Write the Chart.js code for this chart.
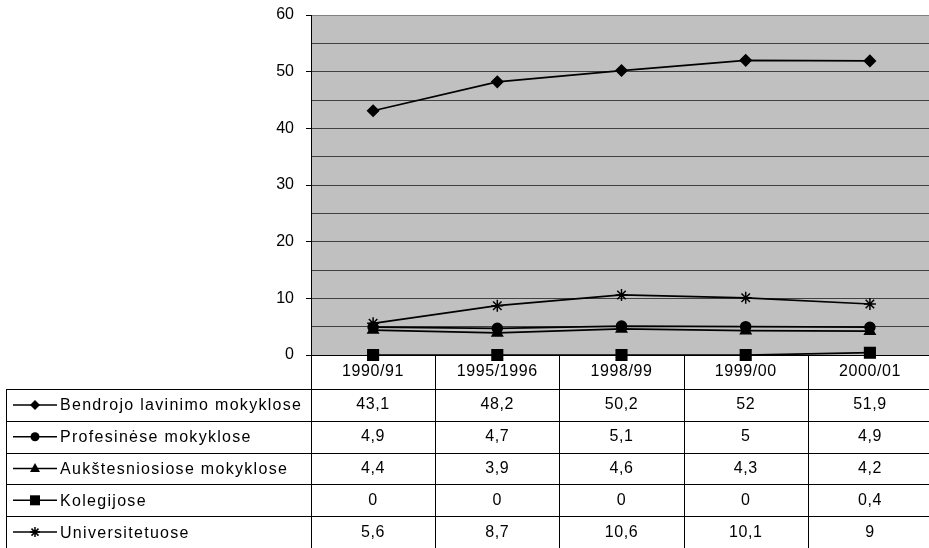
<!DOCTYPE html>
<html>
<head>
<meta charset="utf-8">
<script src="https://cdn.jsdelivr.net/npm/chart.js@4.4.1/dist/chart.umd.min.js"></script>
<style>
  html, body { margin: 0; padding: 0; background: #fff; overflow: hidden; }
  canvas { display: block; }
</style>
</head>
<body>
<canvas id="myChart" width="941" height="548"></canvas>
<script>
const categories = ['1990/91', '1995/1996', '1998/99', '1999/00', '2000/01'];
const seriesNames = ['Bendrojo lavinimo mokyklose', 'Profesinėse mokyklose', 'Aukštesniosiose mokyklose', 'Kolegijose', 'Universitetuose'];
const bendrojo = [43.1, 48.2, 50.2, 52, 51.9];
const profesinese = [4.9, 4.7, 5.1, 5, 4.9];
const aukstesniosiose = [4.4, 3.9, 4.6, 4.3, 4.2];
const kolegijose = [0, 0, 0, 0, 0.4];
const universitetuose = [5.6, 8.7, 10.6, 10.1, 9];
const yTicks = [0, 10, 20, 30, 40, 50, 60];

const allSeries = [bendrojo, profesinese, aukstesniosiose, kolegijose, universitetuose];
const markers = ['rectRot', 'circle', 'triangle', 'rect', 'star'];
const markerSizes = [5.5, 5, 6, 7.5, 6];
const FONT = '16px "Liberation Sans", Arial, sans-serif';

// legend key marker inside the table
function drawKey(ctx, style, x, y) {
    ctx.save();
    ctx.fillStyle = '#000';
    ctx.strokeStyle = '#000';
    ctx.lineWidth = 1.5;
    ctx.beginPath();
    if (style === 'rectRot') {
        ctx.moveTo(x, y - 5); ctx.lineTo(x + 5, y); ctx.lineTo(x, y + 5); ctx.lineTo(x - 5, y);
        ctx.closePath(); ctx.fill();
    } else if (style === 'circle') {
        ctx.arc(x, y, 4.5, 0, Math.PI * 2); ctx.fill();
    } else if (style === 'triangle') {
        ctx.moveTo(x, y - 5.5); ctx.lineTo(x + 5, y + 3.5); ctx.lineTo(x - 5, y + 3.5);
        ctx.closePath(); ctx.fill();
    } else if (style === 'rect') {
        ctx.rect(x - 5, y - 5, 10, 10); ctx.fill();
    } else {
        ctx.moveTo(x - 5, y); ctx.lineTo(x + 5, y);
        ctx.moveTo(x, y - 5); ctx.lineTo(x, y + 5);
        ctx.moveTo(x - 3.5, y - 3.5); ctx.lineTo(x + 3.5, y + 3.5);
        ctx.moveTo(x + 3.5, y - 3.5); ctx.lineTo(x - 3.5, y + 3.5);
        ctx.stroke();
    }
    ctx.restore();
}

function fmt(v) {
    return String(v).replace('.', ',');
}

const plotBackground = {
    id: 'plotBackground',
    beforeDraw(chart) {
        const { ctx, chartArea: a } = chart;
        ctx.save();
        ctx.fillStyle = '#c0c0c0';
        ctx.fillRect(a.left, a.top, a.right - a.left, a.bottom - a.top);
        ctx.restore();
    }
};

const dataTable = {
    id: 'dataTable',
    beforeDatasetsDraw(chart) {
        const { ctx, chartArea: a, scales } = chart;
        const x = scales.x;
        const H = chart.height;
        const headerBottom = a.bottom + 34;
        const rowH = (H - headerBottom) / seriesNames.length;
        const colW = (a.right - a.left) / categories.length;
        const tableLeft = 6;

        ctx.save();
        ctx.strokeStyle = '#000';
        ctx.lineWidth = 1;
        ctx.beginPath();
        // vertical lines
        for (let i = 0; i <= categories.length; i++) {
            const vx = Math.round(a.left + i * colW) + 0.5;
            ctx.moveTo(vx, a.bottom);
            ctx.lineTo(vx, H);
        }
        ctx.moveTo(tableLeft + 0.5, headerBottom);
        ctx.lineTo(tableLeft + 0.5, H);
        // horizontal lines
        for (let r = 0; r < seriesNames.length; r++) {
            const hy = Math.round(headerBottom + r * rowH) + 0.5;
            ctx.moveTo(tableLeft, hy);
            ctx.lineTo(a.right, hy);
        }
        ctx.stroke();

        ctx.font = FONT;
        ctx.fillStyle = '#000';
        ctx.textBaseline = 'middle';
        ctx.textAlign = 'center';
        ctx.letterSpacing = '0.6px';
        categories.forEach((c, i) => {
            ctx.fillText(c, x.getPixelForValue(i), a.bottom + 17);
        });
        allSeries.forEach((vals, r) => {
            const cy = headerBottom + r * rowH + rowH / 2;
            vals.forEach((v, i) => {
                ctx.fillText(fmt(v), x.getPixelForValue(i), cy);
            });
        });

        ctx.textAlign = 'left';
        ctx.letterSpacing = '1.3px';
        seriesNames.forEach((name, r) => {
            const cy = headerBottom + r * rowH + rowH / 2;
            ctx.fillText(name, 60, cy + 1);
            ctx.save();
            ctx.strokeStyle = '#000';
            ctx.lineWidth = 1.5;
            ctx.beginPath();
            ctx.moveTo(13, cy);
            ctx.lineTo(57, cy);
            ctx.stroke();
            ctx.restore();
            drawKey(ctx, markers[r], 35, cy);
        });
        ctx.restore();
    }
};

const ctx = document.getElementById('myChart').getContext('2d');
new Chart(ctx, {
    type: 'line',
    data: {
        labels: categories,
        datasets: allSeries.map((vals, i) => ({
            label: seriesNames[i],
            data: vals,
            borderColor: '#000',
            backgroundColor: '#000',
            borderWidth: 1.75,
            pointStyle: markers[i],
            pointRadius: markerSizes[i],
            pointHoverRadius: markerSizes[i],
            pointBackgroundColor: '#000',
            pointBorderColor: '#000',
            pointBorderWidth: 1.5,
            tension: 0,
            clip: false
        }))
    },
    options: {
        responsive: false,
        animation: false,
        events: [],
        layout: { padding: { left: 0, top: 15, right: 2, bottom: 193 } },
        plugins: {
            legend: { display: false },
            tooltip: { enabled: false },
            title: { display: false }
        },
        scales: {
            x: {
                type: 'category',
                offset: true,
                display: false
            },
            y: {
                min: 0,
                max: 60,
                afterFit(scale) {
                    scale.width = 311;
                    scale.paddingTop = 0;
                    scale.paddingBottom = 0;
                },
                border: { display: true, color: '#000', width: 1 },
                grid: {
                    color: (c) => c.tick.value === 60 ? '#808080' : (c.tick.value === 0 ? '#000' : '#404040'),
                    tickColor: (c) => yTicks.includes(c.tick.value) ? '#000' : 'rgba(0,0,0,0)',
                    tickLength: 5,
                    lineWidth: 1
                },
                ticks: {
                    stepSize: 5,
                    padding: 12,
                    color: '#000',
                    font: { family: '"Liberation Sans", Arial, sans-serif', size: 16 },
                    callback: (v) => yTicks.includes(v) ? String(v) : ''
                }
            }
        }
    },
    plugins: [plotBackground, dataTable]
});
</script>
</body>
</html>
